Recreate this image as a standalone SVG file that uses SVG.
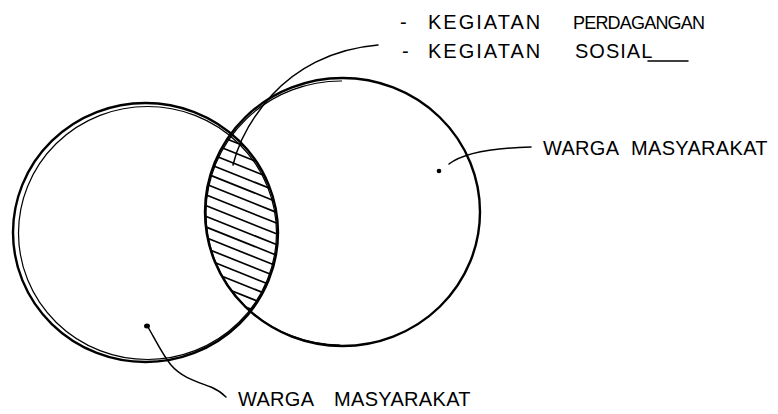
<svg xmlns="http://www.w3.org/2000/svg" width="778" height="414" viewBox="0 0 778 414">
<style>
.c{fill:none;stroke:#000;stroke-width:2.4}
.c2{fill:none;stroke:#000;stroke-width:1.2}
.h{stroke:#000;stroke-width:1.7}
.l{fill:none;stroke:#000;stroke-width:1.5;stroke-linecap:round}
.t{font-family:"Liberation Sans",Arial,sans-serif;font-size:20px;fill:#000}
</style>
<defs>
<clipPath id="clipL"><ellipse cx="146" cy="232.5" rx="131.5" ry="128.5"/></clipPath>
<clipPath id="clipR"><ellipse cx="342.5" cy="212" rx="136.5" ry="133"/></clipPath>
</defs>
<rect width="778" height="414" fill="#fff"/>
<g id="lens">
<g clip-path="url(#clipL)"><g clip-path="url(#clipR)">
<line class="h" x1="190" y1="124.3" x2="300" y2="168.3"/>
<line class="h" x1="190" y1="135" x2="300" y2="179"/>
<line class="h" x1="190" y1="145.7" x2="300" y2="189.7"/>
<line class="h" x1="190" y1="156.4" x2="300" y2="200.4"/>
<line class="h" x1="190" y1="167.1" x2="300" y2="211.1"/>
<line class="h" x1="190" y1="177.8" x2="300" y2="221.8"/>
<line class="h" x1="190" y1="188.5" x2="300" y2="232.5"/>
<line class="h" x1="190" y1="199.2" x2="300" y2="243.2"/>
<line class="h" x1="190" y1="209.9" x2="300" y2="253.9"/>
<line class="h" x1="190" y1="220.6" x2="300" y2="264.6"/>
<line class="h" x1="190" y1="231.3" x2="300" y2="275.3"/>
<line class="h" x1="190" y1="242" x2="300" y2="286"/>
<line class="h" x1="190" y1="252.7" x2="300" y2="296.7"/>
<line class="h" x1="190" y1="263.4" x2="300" y2="307.4"/>
<line class="h" x1="190" y1="274.1" x2="300" y2="318.1"/>
<line class="h" x1="190" y1="284.8" x2="300" y2="328.8"/>
</g></g>
</g>
<g id="circle-left">
<ellipse class="c" cx="145.5" cy="232.5" rx="132.5" ry="129.5"/>
<ellipse class="c2" cx="147.5" cy="233" rx="129" ry="126.5"/>
</g>
<g id="circle-right">
<ellipse class="c" cx="342.5" cy="212" rx="137.5" ry="134"/>
<path class="c2" d="M 342,81 A 135 132 0 0 0 340,345"/>
</g>
<g id="connectors">
<path class="l" d="M 378,45 C 330,49 295,70 272,95 C 253,116 239,140 233,165"/>
<line class="l" x1="648" y1="61" x2="688" y2="61"/>
<path class="l" d="M 449,164 C 462,154 492,148 531,147"/>
<ellipse cx="439" cy="171" rx="2.3" ry="2.3"/>
<path class="l" d="M 148,327 C 157,343 164,357 171,365 C 182,378 198,382 211,387 C 218,390 222,393 226,397"/>
<ellipse cx="147" cy="326" rx="3" ry="2.5"/>
</g>
<g id="label-top">
<text class="t"><tspan x="400" y="29">- </tspan><tspan x="428" y="29" style="letter-spacing:2px">KEGIATAN </tspan><tspan x="573" y="29" style="font-size:18px;letter-spacing:-0.8px">PERDAGANGAN</tspan></text>
<text class="t"><tspan x="402" y="58">- </tspan><tspan x="428" y="58" style="letter-spacing:2px">KEGIATAN </tspan><tspan x="575" y="58" style="letter-spacing:1px">SOSIAL</tspan></text>
</g>
<g id="label-right">
<text class="t" x="543" y="155" style="letter-spacing:0.3px;word-spacing:7px">WARGA MASYARAKAT</text>
</g>
<g id="label-bottom">
<text class="t" x="238" y="406" style="letter-spacing:0.3px;word-spacing:15px">WARGA MASYARAKAT</text>
</g>
</svg>
